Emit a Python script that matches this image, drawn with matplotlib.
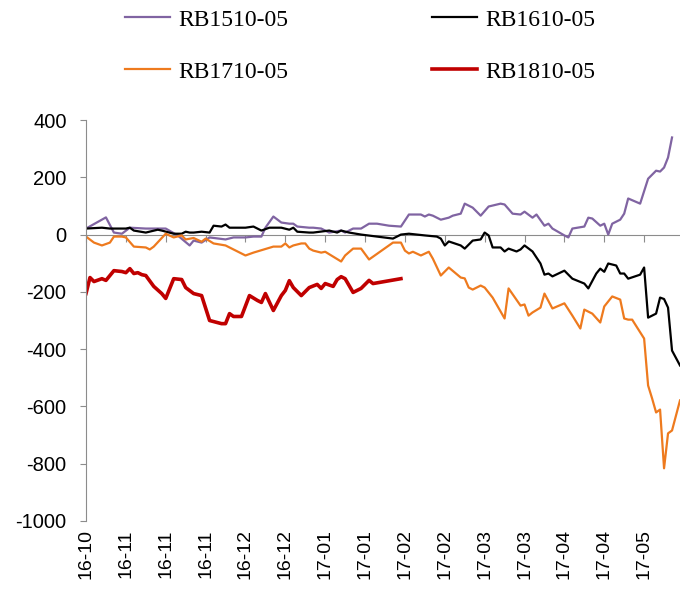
import matplotlib
matplotlib.use("Agg")
import matplotlib.pyplot as plt

plt.rcParams['axes.unicode_minus'] = False

# x positions are trading-day indices (0 .. 149)
tick_labels = ["16-10", "16-11", "16-11", "16-11", "16-12", "16-12", "17-01", "17-01",
               "17-02", "17-02", "17-03", "17-03", "17-04", "17-04", "17-05"]
tick_idx = list(range(0, 150, 10))

rb1510_x = [0, 5, 7, 9, 11, 15, 20, 23, 26, 27, 29, 31, 35, 37, 40, 42, 44, 45, 47, 49,
            51, 52, 53, 56, 57, 59, 61, 64, 65, 67, 69, 71, 73, 76, 79, 81, 84, 85, 86, 87,
            89, 91, 92, 94, 95, 97, 99, 101, 104, 105, 107, 109, 110, 112, 113, 115, 116, 117,
            120, 121, 122, 125, 126, 127, 129, 130, 131, 132, 134, 135, 136, 139, 141, 143,
            144, 145, 146, 147]
rb1510_y = [21, 60, 7, 3, 24, 21, 21, -3, -38, -21, -28, -10, -17, -10, -10, -7, -7, 24, 63, 42,
            38, 38, 28, 24, 24, 21, 7, 14, 7, 21, 21, 38, 38, 31, 28, 70, 70, 63, 70, 66,
            52, 59, 66, 73, 108, 94, 66, 98, 108, 105, 73, 70, 80, 59, 70, 31, 38, 21,
            -3, -10, 21, 28, 59, 56, 31, 38, 0, 38, 52, 73, 126, 108, 195, 223,
            220, 234, 269, 339]

rb1610_x = [0, 4, 6, 10, 11, 12, 15, 18, 19, 22, 24, 25, 26, 27, 29, 31, 32, 34, 35, 36,
            40, 42, 44, 46, 49, 51, 52, 53, 56, 57, 61, 63, 64, 66, 69, 73, 77, 79, 81, 85,
            88, 89, 90, 91, 94, 95, 97, 99, 100, 101, 102, 104, 105, 106, 108, 109, 110, 112,
            114, 115, 116, 117, 120, 122, 125, 126, 128, 129, 130, 131, 133, 134, 135, 136,
            139, 140, 141, 143, 144, 145, 146, 147, 149]
rb1610_y = [21, 24, 21, 21, 24, 14, 7, 17, 14, 3, 3, 10, 7, 7, 10, 7, 31, 28, 35, 24,
            24, 28, 14, 24, 24, 17, 24, 10, 7, 7, 14, 7, 14, 7, 0, -7, -14, 0, 3, -3,
            -7, -14, -38, -24, -38, -49, -21, -17, 7, -3, -45, -45, -59, -49, -59, -52, -38, -59,
            -101, -140, -136, -146, -126, -154, -171, -188, -136, -119, -130, -101, -108, -136, -136, -154,
            -140, -115, -290, -276, -220, -225, -255, -405, -457]

rb1710_x = [0, 2, 4, 6, 7, 9, 10, 12, 15, 16, 17, 20, 22, 24, 25, 27, 29, 30, 32, 35,
            40, 42, 47, 49, 50, 51, 52, 54, 55, 56, 57, 59, 60, 64, 65, 67, 69, 71, 77, 79,
            80, 81, 82, 84, 86, 87, 89, 91, 94, 95, 96, 97, 99, 100, 102, 105, 106, 109, 110,
            111, 112, 114, 115, 117, 120, 122, 124, 125, 127, 129, 130, 132, 134, 135, 136, 137,
            140, 141, 142, 143, 144, 145, 146, 147, 149]
rb1710_y = [-7, -28, -38, -28, -7, -7, -10, -42, -45, -52, -42, 3, -10, -3, -17, -12, -25, -14, -31, -38,
            -73, -63, -42, -42, -31, -45, -38, -31, -31, -49, -56, -63, -60, -94, -73, -49, -49, -87, -28, -28,
            -56, -66, -60, -73, -60, -84, -143, -115, -150, -153, -185, -192, -178, -185, -220, -293, -188, -248, -244,
            -283, -272, -255, -206, -258, -240, -283, -328, -262, -276, -307, -251, -216, -227, -293, -297, -297,
            -363, -527, -572, -621, -611, -816, -694, -684, -579]

rb1810_x = [0, 1, 2, 4, 5, 7, 9, 10, 11, 12, 13, 14, 15, 17, 19, 20, 22, 24, 25, 27,
            29, 31, 34, 35, 36, 37, 39, 41, 43, 44, 45, 47, 49, 50, 51, 52, 54, 56, 58, 59,
            60, 62, 63, 64, 65, 67, 69, 71, 72, 79]
rb1810_y = [-206, -150, -164, -154, -160, -126, -129, -133, -119, -136, -133, -140, -143, -181, -206, -223, -154, -157, -185, -206,
            -213, -300, -311, -311, -276, -286, -286, -213, -230, -237, -206, -265, -213, -195, -161, -185, -213, -185, -174, -188,
            -171, -181, -157, -147, -154, -202, -188, -160, -171, -154]

axis_grey = "#8c8c8c"

fig = plt.figure(figsize=(6.8, 5.99), dpi=100)
ax = fig.add_axes([86 / 680, 78 / 599, 594 / 680, 401 / 599])

l1, = ax.plot(rb1510_x, rb1510_y, color="#8064A2", lw=1.6, label="RB1510-05")
l2, = ax.plot(rb1610_x, rb1610_y, color="#000000", lw=1.6, label="RB1610-05")
l3, = ax.plot(rb1710_x, rb1710_y, color="#EE7A1E", lw=1.6, label="RB1710-05")
l4, = ax.plot(rb1810_x, rb1810_y, color="#C00000", lw=2.6, label="RB1810-05")

ax.set_xlim(0, 149)
ax.set_ylim(-1000, 400)
ax.set_yticks(range(-1000, 401, 200))

for s in ["top", "right"]:
    ax.spines[s].set_visible(False)
ax.spines["left"].set_color(axis_grey)
ax.spines["bottom"].set_color(axis_grey)
ax.spines["bottom"].set_position(("data", 0))
ax.spines["bottom"].set_zorder(0)

ax.set_xticks(tick_idx)
ax.tick_params(axis="x", direction="out", length=5, color=axis_grey, labelbottom=False)
ax.tick_params(axis="y", direction="out", length=4, color=axis_grey, pad=10)
for t in ax.get_yticklabels():
    t.set_fontfamily("Liberation Sans")
    t.set_fontsize(14.5)

# date labels along the bottom edge
sec = ax.secondary_xaxis("bottom")
sec.set_xticks(tick_idx)
sec.set_xticklabels(tick_labels, rotation=90, fontsize=14, fontfamily="Liberation Sans")
sec.tick_params(length=0, pad=6)
sec.spines["bottom"].set_visible(False)

fig.legend([l1, l3, l2, l4], ["RB1510-05", "RB1710-05", "RB1610-05", "RB1810-05"],
           ncol=2, loc="upper left", bbox_to_anchor=(125 / 680, 1 - 9 / 599),
           frameon=False, prop={"family": "Liberation Serif", "size": 17},
           handlelength=1.9, handletextpad=0.35, columnspacing=6.1,
           labelspacing=1.3, borderpad=0, borderaxespad=0)

fig.savefig("out.png", dpi=100)
